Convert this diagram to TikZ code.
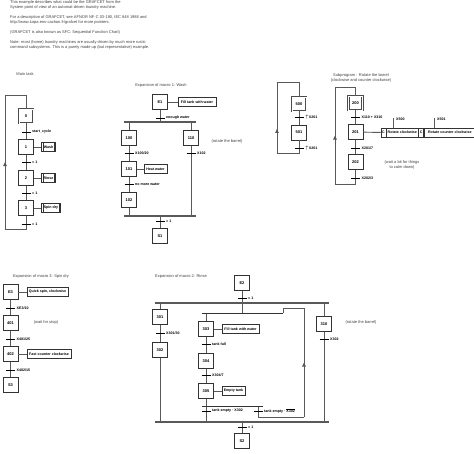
\documentclass[tikz,border=0pt]{standalone}
\usepackage{fontspec}
\setmainfont{Liberation Sans}
\usetikzlibrary{arrows.meta,positioning,calc,decorations.markings}

\begin{document}
\begin{tikzpicture}[x=1pt, y=-1pt, font=\fontsize{4}{5}\selectfont,
  link/.style={black!65, line width=0.9pt},
  stepbox/.style={draw=black!80, fill=white, line width=0.9pt, minimum size=15pt, inner sep=0pt, font=\fontsize{4}{4}\selectfont\bfseries},
  initstep/.style={stepbox, draw=black!70, double distance=1pt, line width=0.7pt, minimum size=14pt},
  actbox/.style={draw=black!80, fill=white, line width=0.7pt, minimum height=9pt, inner sep=1pt, font=\fontsize{3.6}{4}\selectfont\bfseries},
  macroact/.style={actbox, path picture={
    \draw[line width=0.4pt] ([xshift=1.3pt]path picture bounding box.north west) -- ([xshift=1.3pt]path picture bounding box.south west)
      ([xshift=-1.3pt]path picture bounding box.north east) -- ([xshift=-1.3pt]path picture bounding box.south east);}},
  bar/.style={black!65, line width=2.5pt},
  sel/.style={black!80, line width=0.7pt},
  tick/.style={black, line width=0.9pt},
  tlabel/.style={inner sep=0pt, font=\fontsize{3.6}{4}\selectfont\bfseries},
  note/.style={text=black!75, inner sep=0pt, align=center},
  midup/.style={postaction={decorate}, decoration={markings,
    mark=at position #1 with {\arrow{Triangle[length=4pt,width=3.5pt]}}}}]
  \useasboundingbox (0,0) rectangle (474,453);

  % ---- header text ----
  \node[note, align=left, anchor=north west] (intro) at (10,0.5) {%
    This example describes what could be the GRAFCET from the\\
    System point of view of an automat-driven laundry machine.\\[5pt]
    For a description of GRAFCET, see AFNOR NF-C 03-190, IEC 848 1988 and\\
    http://www.lurpa.ens-cachan.fr/grafcet for more pointers.\\[5pt]
    (GRAFCET is also known as SFC: Sequential Function Chart)\\[5pt]
    Note: most (home) laundry machines are usually driven by much more rustic\\
    command subsystems. This is a purely made up (but representative) example.};

  % ---- main task ----
  \node[note] (ttl0) at (25,74) {Main task};
  \node[initstep] (s0) at (26,116) {0};
  \foreach \nm/\y in {1/147, 2/178, 3/208} \node[stepbox] (s\nm) at (26,\y) {\nm};
  \node[macroact, minimum width=14pt] (a1) at (48.5,147) {Wash};
  \node[macroact, minimum width=14pt] (a2) at (48.5,178) {Rinse};
  \node[macroact, minimum width=19pt] (a3) at (51,208) {Spin dry};
  \coordinate (lp0) at (26,95); \coordinate (lp1) at (26,229);
  \coordinate (lx0) at (5,229); \coordinate (lx1) at (5,95);
  \draw[link] (s0) -- (s1) -- (s2) -- (s3) -- (lp1) -- (lx0);
  \draw[link, midup=0.5] (lx0) -- (lx1);
  \draw[link] (lx1) -- (lp0) -- (s0);
  \foreach \nm in {1,2,3} \draw[link] (s\nm) -- (a\nm);
  \foreach \nm/\x/\y/\lbl in {t0/26/132/start\_cycle, t1/26/162/{= 1}, t2/26/193/{= 1}, t3/26/224/{= 1}} {
    \coordinate (\nm) at (\x,\y);
    \draw[tick] ([xshift=-4.5pt]\nm) -- ([xshift=4.5pt]\nm);
    \node[tlabel, right=6pt of \nm] (\nm-l) {\lbl};
  }

  % ---- macro 1: wash ----
  \node[note] (ttl1) at (161,85) {Expansion of macro 1: Wash};
  \node[stepbox] (e1) at (160,102) {E1};
  \foreach \nm/\x/\y in {100/129/138, 110/191/138, 101/129/169, 102/129/200}
    \node[stepbox] (s\nm) at (\x,\y) {\nm};
  \node[stepbox] (f1) at (160,236) {S1};
  \node[actbox, minimum width=38pt] (a11) at (197,102) {Fill tank with water};
  \node[actbox, minimum width=23pt] (a101) at (155.5,169) {Heat water};
  \node[note] (c110) at (227,141) {(rotate the barrel)};
  \coordinate (b1l) at (124,122); \coordinate (b1r) at (196,122);
  \coordinate (b2l) at (124,216); \coordinate (b2r) at (196,216);
  \draw[link] (e1) -- (e1 |- b1l);
  \draw[link] (s100 |- b1l) -- (s100) -- (s101) -- (s102) -- (s102 |- b2l);
  \draw[link] (s110 |- b1l) -- (s110) -- (s110 |- b2l);
  \draw[link] (f1 |- b2l) -- (f1);
  \draw[link] (e1) -- (a11);
  \draw[link] (s101) -- (a101);
  \draw[bar] (b1l) -- (b1r);
  \draw[bar] (b2l) -- (b2r);
  \foreach \nm/\x/\y/\lbl in {te1/160/118/{enough water}, t100/129/153/{X100/20}, t110/191/153/{X102},
      t101/129/184/{no more water}, tf1/160/221/{= 1}} {
    \coordinate (\nm) at (\x,\y);
    \draw[tick] ([xshift=-4.5pt]\nm) -- ([xshift=4.5pt]\nm);
    \node[tlabel, right=6pt of \nm] (\nm-l) {\lbl};
  }

  % ---- subprogram: rotate the barrel ----
  \node[note] (ttl5) at (361,77.5) {Subprogram : Rotate the barrel\\(clockwise and counter clockwise)};
  \node[initstep] (s500) at (299,104) {500};
  \node[stepbox] (s501) at (299,132.5) {501};
  \coordinate (m0) at (299,82); \coordinate (m1) at (299,153);
  \coordinate (mx0) at (277,153); \coordinate (mx1) at (277,82);
  \draw[link] (s500) -- (s501) -- (m1) -- (mx0);
  \draw[link, midup=0.34] (mx0) -- (mx1);
  \draw[link] (mx1) -- (m0) -- (s500);
  \node[initstep] (s200) at (355.5,103) {200};
  \node[stepbox] (s201) at (355.5,132) {201};
  \node[stepbox] (s202) at (355.5,162) {202};
  \coordinate (n0) at (355.5,87); \coordinate (n1) at (355.5,184);
  \coordinate (nx0) at (335,184); \coordinate (nx1) at (335,87);
  \draw[link] (s200) -- (s201) -- (s202) -- (n1) -- (nx0);
  \draw[link, midup=0.5] (nx0) -- (nx1);
  \draw[link] (nx1) -- (n0) -- (s200);
  \node[actbox, minimum width=5pt, inner sep=0pt] (qa) at (383.5,132.5) {C};
  \node[actbox, minimum width=31pt, anchor=west] (ra) at (qa.east) {Rotate clockwise};
  \node[actbox, minimum width=5pt, inner sep=0pt, anchor=west] (qb) at (ra.east) {C};
  \node[actbox, minimum width=51pt, anchor=west] (rb) at (qb.east) {Rotate counter clockwise};
  \draw[link] (s201) -- (qa);
  \node[tlabel, anchor=west] (x500) at (396,119.5) {X500};
  \node[tlabel, anchor=west] (x501) at (437,119.5) {X501};
  \draw[link] (ra.north -| 393,0) -- (393,118);
  \draw[link] (rb.north -| 434,0) -- (434,118);
  \node[note] (c202) at (402,165) {(wait a bit for things\\to calm down)};
  \foreach \nm/\x/\y/\lbl in {t500/299/117/{$\uparrow$X201}, t501/299/148/{$\uparrow$X201},
      t200/355.5/117/{X110 + X310}, t201/355.5/148/{X201/7}, t202/355.5/178/{X202/3}} {
    \coordinate (\nm) at (\x,\y);
    \draw[tick] ([xshift=-4.5pt]\nm) -- ([xshift=4.5pt]\nm);
    \node[tlabel, right=6pt of \nm] (\nm-l) {\lbl};
  }

  % ---- macro 3: spin dry ----
  \node[note] (ttl3) at (41,276) {Expansion of macro 3: Spin dry};
  \node[stepbox] (e3) at (10.5,292) {E3};
  \node[stepbox] (s401) at (10.5,323) {401};
  \node[stepbox] (s402) at (10.5,354) {402};
  \node[stepbox] (f3) at (10.5,385) {S3};
  \node[actbox, minimum width=41pt] (a3e) at (47.5,292) {Quick spin, clockwise};
  \node[actbox, minimum width=44pt] (a402) at (49,354) {Fast counter clockwise};
  \node[note] (c401) at (46,322) {(wait for stop)};
  \draw[link] (e3) -- (s401) -- (s402) -- (f3);
  \draw[link] (e3) -- (a3e);
  \draw[link] (s402) -- (a402);
  \foreach \nm/\x/\y/\lbl in {te3/10.5/308/{XE3/10}, t401/10.5/339/{X401/25}, t402/10.5/370/{X402/15}} {
    \coordinate (\nm) at (\x,\y);
    \draw[tick] ([xshift=-4.5pt]\nm) -- ([xshift=4.5pt]\nm);
    \node[tlabel, right=6pt of \nm] (\nm-l) {\lbl};
  }

  % ---- macro 2: rinse ----
  \node[note] (ttl2) at (181,276) {Expansion of macro 2: Rinse};
  \node[stepbox] (e2) at (242,283) {E2};
  \foreach \nm/\x/\y in {301/160/317, 302/160/350, 303/206/329, 304/206/361, 305/206/391, 310/324/324}
    \node[stepbox] (s\nm) at (\x,\y) {\nm};
  \node[stepbox] (f2) at (242,441) {S2};
  \node[actbox, minimum width=37pt] (a303) at (240.5,329) {Fill tank with water};
  \node[actbox, minimum width=23pt] (a305) at (233.5,391) {Empty tank};
  \node[note] (c310) at (361,322) {(rotate the barrel)};
  \coordinate (b3l) at (155,303); \coordinate (b3r) at (329,303);
  \coordinate (b4l) at (155,422); \coordinate (b4r) at (329,422);
  \coordinate (c1l) at (202,313); \coordinate (c1r) at (283,313);
  \coordinate (c2l) at (202,406); \coordinate (c2r) at (263,406);
  \coordinate (r0) at (258,417); \coordinate (r1) at (304,417);
  \coordinate (r2) at (304,308); \coordinate (r3) at (283,308);
  \draw[link] (e2) -- (e2 |- b3l);
  \draw[link] (e2 |- b3l) -- (e2 |- c1l);
  \draw[link] (s301 |- b3l) -- (s301) -- (s302) -- (s302 |- b4l);
  \draw[link] (s303 |- c1l) -- (s303) -- (s304) -- (s305) -- (s305 |- b4l);
  \draw[link] (r0 |- c2l) -- (r0) -- (r1);
  \draw[link, midup=0.5] (r1) -- (r2);
  \draw[link] (r2) -- (r3) -- (c1r);
  \draw[link] (s310 |- b3l) -- (s310) -- (s310 |- b4l);
  \draw[link] (f2 |- b4l) -- (f2);
  \draw[link] (s303) -- (a303);
  \draw[link] (s305) -- (a305);
  \draw[sel] (c1l) -- (c1r);
  \draw[sel] (c2l) -- (c2r);
  \draw[bar] (b3l) -- (b3r);
  \draw[bar] (b4l) -- (b4r);
  \foreach \nm/\x/\y/\lbl in {te2/242/298/{= 1}, t301/160/333/{X301/30}, t303/206/344/{tank full},
      t304/206/375/{X304/7}, t305/206/411/{tank empty · X302}, t306/258/411/{tank empty · $\overline{\hbox{X302}}$},
      t310/324/339/{X302}, tf2/242/427/{= 1}} {
    \coordinate (\nm) at (\x,\y);
    \draw[tick] ([xshift=-4.5pt]\nm) -- ([xshift=4.5pt]\nm);
    \node[tlabel, right=6pt of \nm] (\nm-l) {\lbl};
  }
\end{tikzpicture}
\end{document}
